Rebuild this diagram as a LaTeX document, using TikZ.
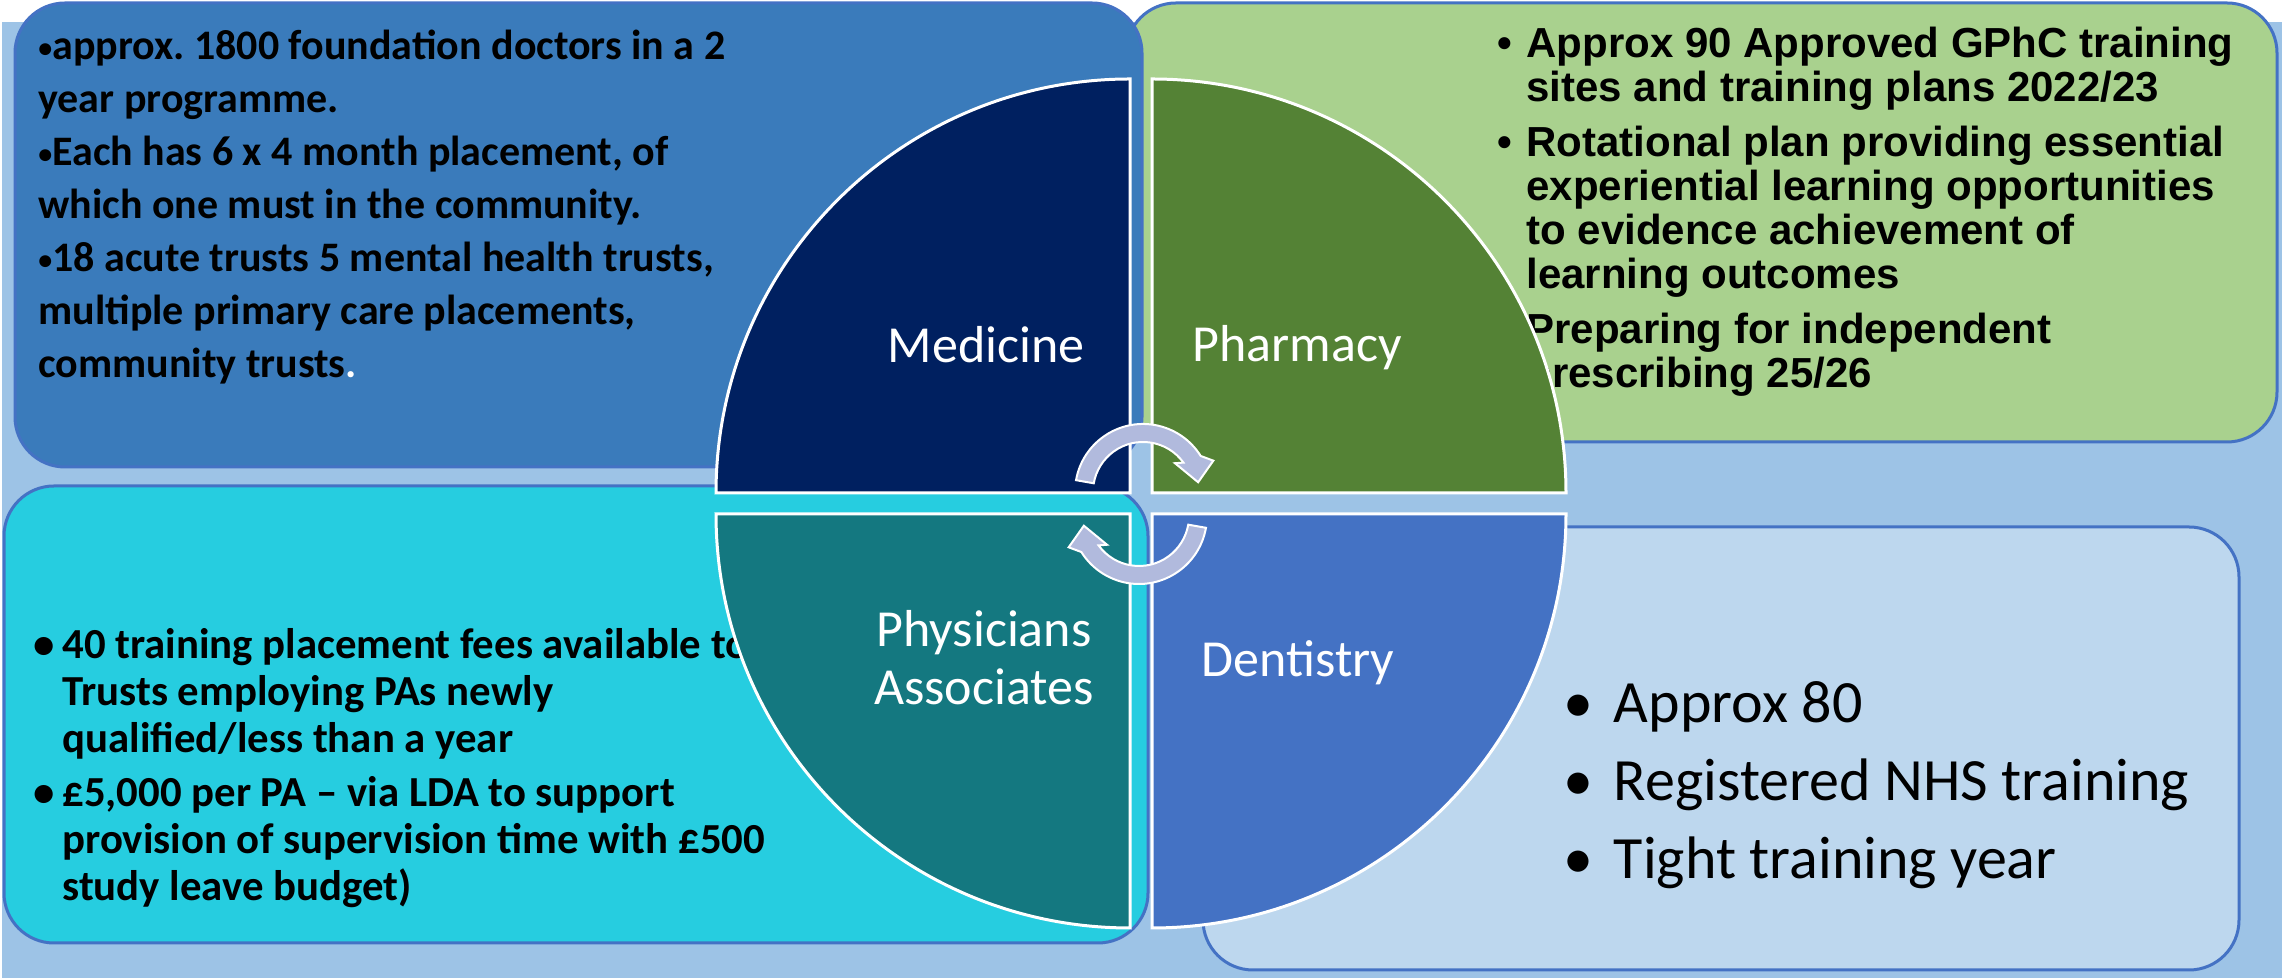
\documentclass[tikz,border=0pt]{standalone}
\usepackage{fontspec}
\setmainfont{Carlito}
\newfontfamily\arialfont{Liberation Sans}
\usepackage{xcolor}
\definecolor{backblue}{HTML}{9DC3E6}
\definecolor{edgeblue}{HTML}{4472C4}
\definecolor{medbox}{HTML}{3A7BBB}
\definecolor{pharmbox}{HTML}{A9D18E}
\definecolor{pabox}{HTML}{26CDE0}
\definecolor{dentbox}{HTML}{BDD7EE}
\definecolor{medq}{HTML}{002060}
\definecolor{pharmq}{HTML}{548235}
\definecolor{paq}{HTML}{147880}
\definecolor{dentq}{HTML}{4472C4}
\definecolor{turn}{HTML}{B1BADD}
\newcommand{\bl}[1][14.5pt]{\makebox[#1][l]{•}}
\newcommand{\nb}[1][14.5pt]{\hspace*{#1}}
\newcommand{\smallbl}{\raisebox{1pt}{\fontsize{14}{14}\selectfont •}}
\tikzset{infobox/.style={draw=edgeblue,line width=1.5pt,rounded corners=25pt},
	quarter/.style={draw=white,line width=1.5pt},
	qlabel/.style={text=white,inner sep=0pt,align=center,anchor=base,font=\fontsize{26}{29}\selectfont},
	notes/.style={inner sep=0pt,align=left,anchor=base west},
	turnarrow/.pic={\filldraw[fill=turn,draw=white,line width=1pt] (170:68) arc[start angle=170,end angle=32,radius=68] -- (24:77) -- (10:56) -- (42:43) -- (36:50) arc[start angle=36,end angle=170,radius=50] -- cycle;}}

\begin{document}
\begin{tikzpicture}[x=0.5pt,y=0.5pt]
	\useasboundingbox (0,0) rectangle (2282,978);
	\fill[backblue] (2,0) rectangle (2282,956);
	\filldraw[infobox,fill=pharmbox] (1126,536) rectangle (2277,975);
	\filldraw[infobox,fill=medbox] (15,511) rectangle (1142,975);
	\filldraw[infobox,fill=pabox] (4,35) rectangle (1148,492);
	\filldraw[infobox,fill=dentbox] (1203,8) rectangle (2239,451);
	\node[notes,font=\bfseries\fontsize{21}{26.5}\selectfont] (medtext) at (38,600)
		{\smallbl approx.\ 1800 foundation doctors in a 2\\ year programme.\\
		\smallbl Each has 6 x 4 month placement, of\\ which one must in the community.\\
		\smallbl 18 acute trusts 5 mental health trusts,\\ multiple primary care placements,\\
		community trusts{\color{white}.}};
	\node[notes,font=\arialfont\bfseries\fontsize{21}{22}\selectfont] (pharmtext) at (1497,590)
		{\bl Approx 90 Approved GPhC training\\ \nb sites and training plans 2022/23\\[5.5pt]
		\bl Rotational plan providing essential\\ \nb experiential learning opportunities\\
		\nb to evidence achievement of\\ \nb learning outcomes\\[5.5pt]
		\bl Preparing for independent\\ \nb prescribing 25/26};
	\node[notes,font=\bfseries\fontsize{21.4}{23.5}\selectfont] (patext) at (33,77)
		{\bl 40 training placement fees available to\\ \nb Trusts employing PAs newly\\
		\nb qualified/less than a year\\[3.5pt]
		\bl £5,000 per PA – via LDA to support\\ \nb provision of supervision time with £500\\
		\nb study leave budget)};
	\node[notes,font=\fontsize{30}{39}\selectfont] (denttext) at (1563,99)
		{\bl[18.5pt] Approx 80\\ \bl[18.5pt] Registered NHS training\\ \bl[18.5pt] Tight training year};
	\coordinate (mc) at (1130,485);
	\coordinate (pc) at (1152,485);
	\coordinate (ac) at (1130,464);
	\coordinate (dc) at (1152,464);
	\filldraw[quarter,fill=medq] (mc) -- ++(-414,0) arc[start angle=180,end angle=90,radius=414] -- cycle;
	\filldraw[quarter,fill=pharmq] (pc) -- ++(0,414) arc[start angle=90,end angle=0,radius=414] -- cycle;
	\filldraw[quarter,fill=paq] (ac) -- ++(-414,0) arc[start angle=180,end angle=270,radius=414] -- cycle;
	\filldraw[quarter,fill=dentq] (dc) -- ++(0,-414) arc[start angle=270,end angle=360,radius=414] -- cycle;
	\node[qlabel] (med) at (986,615) {Medicine};
	\node[qlabel] (pharm) at (1297,616) {Pharmacy};
	\node[qlabel] (pa) at (984,273) {Physicians\\ Associates};
	\node[qlabel] (dent) at (1298,301) {Dentistry};
	\pic at (1143,486) {turnarrow};
	\pic[rotate=180] at (1139,462) {turnarrow};
\end{tikzpicture}
\end{document}
